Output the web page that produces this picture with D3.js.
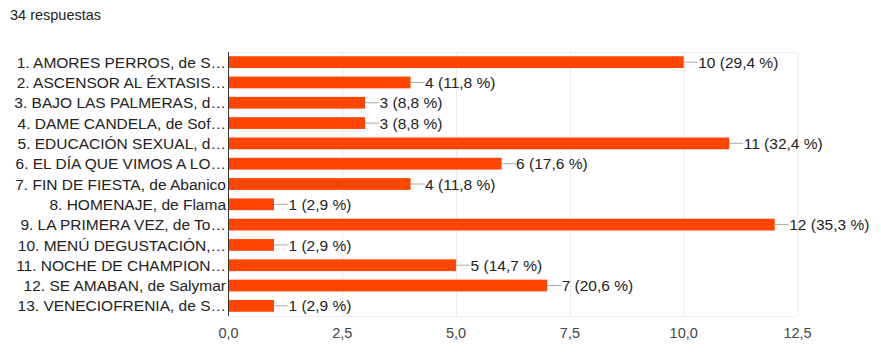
<!DOCTYPE html>
<html><head><meta charset="utf-8">
<script src="https://cdn.jsdelivr.net/npm/d3@7"></script>
<style>body{margin:0;background:#fff;font-family:Arial,"Liberation Sans",sans-serif;}</style>
</head><body>
<svg id="c" width="881" height="360"></svg>
<script>
const title = "34 respuestas";
const categories = [
  "1. AMORES PERROS, de S…",
  "2. ASCENSOR AL ÉXTASIS…",
  "3. BAJO LAS PALMERAS, d…",
  "4. DAME CANDELA, de Sof…",
  "5. EDUCACIÓN SEXUAL, d…",
  "6. EL DÍA QUE VIMOS A LO…",
  "7. FIN DE FIESTA, de Abanico",
  "8. HOMENAJE, de Flama",
  "9. LA PRIMERA VEZ, de To…",
  "10. MENÚ DEGUSTACIÓN,…",
  "11. NOCHE DE CHAMPION…",
  "12. SE AMABAN, de Salymar",
  "13. VENECIOFRENIA, de S…"
];
const values = [10, 4, 3, 3, 11, 6, 4, 1, 12, 1, 5, 7, 1];
const percents = ["29,4", "11,8", "8,8", "8,8", "32,4", "17,6", "11,8", "2,9", "35,3", "2,9", "14,7", "20,6", "2,9"];
const ticks = [0, 2.5, 5, 7.5, 10, 12.5];
const tickLabels = ["0,0", "2,5", "5,0", "7,5", "10,0", "12,5"];

const svg = d3.select("#c");
const x = d3.scaleLinear().domain([0, 12.5]).range([228.5, 797.5]);
const y = d3.scaleBand().domain(categories).range([52, 316]).paddingInner(0.42).paddingOuter(0.21);

svg.append("text").attr("x", 10).attr("y", 20).attr("font-size", 14.5).attr("fill", "#222").text(title);

// gridlines
svg.append("g").selectAll("line").data(ticks.slice(1)).join("line")
  .attr("x1", d => x(d) + 0.5).attr("x2", d => x(d) + 0.5)
  .attr("y1", 52).attr("y2", 316)
  .attr("stroke", "#ebebeb").attr("stroke-width", 1);
svg.append("line").attr("x1", x(0)).attr("x2", x(12.5)).attr("y1", 52.5).attr("y2", 52.5).attr("stroke", "#f0f0f0");
svg.append("line").attr("x1", x(0)).attr("x2", x(12.5)).attr("y1", 316.5).attr("y2", 316.5).attr("stroke", "#f0f0f0");

// bars
svg.append("g").selectAll("rect").data(values).join("rect")
  .attr("x", x(0)).attr("y", (d, i) => y(categories[i]))
  .attr("width", d => x(d) - x(0)).attr("height", y.bandwidth())
  .attr("fill", "#ff4500");

// leader lines
svg.append("g").selectAll("line").data(values).join("line")
  .attr("x1", d => x(d)).attr("x2", d => x(d) + 14)
  .attr("y1", (d, i) => y(categories[i]) + y.bandwidth() / 2)
  .attr("y2", (d, i) => y(categories[i]) + y.bandwidth() / 2)
  .attr("stroke", "#aaa").attr("stroke-width", 1);

// value labels
svg.append("g").selectAll("text").data(values).join("text")
  .attr("x", d => x(d) + 14.5)
  .attr("y", (d, i) => y(categories[i]) + y.bandwidth() / 2)
  .attr("dy", "0.36em").attr("font-size", 15.5).attr("fill", "#222")
  .text((d, i) => `${d} (${percents[i]} %)`);

// category labels
svg.append("g").selectAll("text").data(categories).join("text")
  .attr("x", 226).attr("y", d => y(d) + y.bandwidth() / 2)
  .attr("dy", "0.36em").attr("text-anchor", "end").attr("font-size", 15.5).attr("fill", "#222")
  .text(d => d);

// axis line
svg.append("line").attr("x1", x(0)).attr("x2", x(0)).attr("y1", 52).attr("y2", 316)
  .attr("stroke", "#333").attr("stroke-width", 1);

// tick labels
svg.append("g").selectAll("text").data(ticks).join("text")
  .attr("x", d => x(d)).attr("y", 333).attr("dy", "0.36em")
  .attr("text-anchor", "middle").attr("font-size", 14.5).attr("fill", "#444")
  .text((d, i) => tickLabels[i]);
</script>
</body></html>
